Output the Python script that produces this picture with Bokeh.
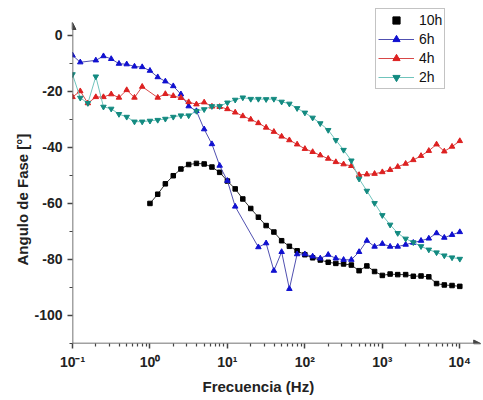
from bokeh.plotting import figure
from bokeh.models import FixedTicker, CustomJSTickFormatter, Arrow, NormalHead, Range1d, Legend, Title
from bokeh.embed import file_html
from bokeh.resources import INLINE

# ---- data ----
f_10h = [1, 1.26, 1.58, 2.0, 2.51, 3.16, 3.98, 5.01, 6.31, 7.94, 10, 12.6, 15.8, 20, 25.1, 31.6, 39.8,
         50.1, 63.1, 79.4, 100, 126, 158, 200, 251, 316, 398, 501, 631, 794, 1000, 1260, 1580, 2000,
         2510, 3160, 3980, 5010, 6310, 7940, 10000]
p_10h = [-60.0, -56.7, -53.0, -50.1, -47.7, -46.1, -45.7, -45.9, -47.0, -48.9, -52.0, -54.8, -58.4,
         -61.8, -64.9, -67.9, -70.2, -73.3, -75.3, -76.9, -78.3, -79.4, -80.2, -81.0, -81.4, -81.6,
         -82.0, -84.0, -82.3, -84.3, -85.7, -85.2, -85.4, -85.4, -86.0, -85.9, -86.2, -88.6, -89.1,
         -89.3, -89.6]

f_6h = [0.1, 0.126, 0.2, 0.251, 0.316, 0.398, 0.501, 0.631, 0.794, 1, 1.26, 1.58, 2.0, 2.51, 3.16,
        3.98, 5.01, 6.31, 7.94, 10, 12.6, 25.1, 31.6, 39.8, 50.1, 63.1, 79.4, 100, 126, 158, 200,
        251, 316, 398, 501, 631, 794, 1000, 1260, 1580, 2000, 2510, 3160, 3980, 5010, 6310, 7940,
        10000]
p_6h = [-7.1, -9.6, -8.9, -7.4, -8.4, -10.1, -10.3, -11.1, -11.3, -12.6, -14.9, -16.4, -18.1, -21.0,
        -25.3, -27.0, -33.5, -38.8, -46.5, -51.9, -61.1, -75.6, -74.2, -84.0, -77.3, -90.5, -78.1,
        -78.1, -78.9, -79.6, -78.3, -79.6, -80.1, -80.1, -77.3, -73.3, -75.4, -74.4, -75.4, -75.4,
        -74.7, -74.0, -73.3, -72.5, -70.6, -72.2, -71.2, -70.2]

f_4h = [0.1, 0.126, 0.158, 0.2, 0.251, 0.316, 0.398, 0.501, 0.631, 0.794, 1.26, 1.58, 2.0, 2.51,
        3.16, 3.98, 5.01, 6.31, 7.94, 10, 12.6, 15.8, 20, 25.1, 31.6, 39.8, 50.1, 63.1, 79.4, 100,
        126, 158, 200, 251, 316, 398, 501, 631, 794, 1000, 1260, 1580, 2000, 2510, 3160, 3980,
        5010, 6310, 7940, 10000]
p_4h = [-22.0, -19.9, -24.2, -22.0, -22.0, -21.0, -22.2, -19.5, -22.2, -18.3, -22.2, -20.9, -21.6,
        -22.3, -23.8, -24.6, -23.9, -25.4, -25.5, -26.3, -27.5, -28.8, -30.0, -31.3, -32.9, -34.4,
        -36.1, -37.4, -38.9, -40.5, -41.6, -42.8, -44.0, -45.2, -46.0, -46.6, -49.8, -49.6, -49.4,
        -48.8, -48.0, -46.9, -45.8, -44.5, -43.0, -41.2, -38.9, -41.4, -39.7, -37.7]

f_2h = [0.1, 0.126, 0.158, 0.2, 0.251, 0.316, 0.398, 0.501, 0.631, 0.794, 1, 1.26, 1.58, 2.0, 2.51,
        3.16, 3.98, 5.01, 6.31, 7.94, 10, 12.6, 15.8, 20, 25.1, 31.6, 39.8, 50.1, 63.1, 79.4, 100,
        126, 158, 200, 251, 316, 398, 501, 631, 794, 1000, 1260, 1580, 2000, 2510, 3160, 3980,
        5010, 6310, 7940, 10000]
p_2h = [-13.9, -22.3, -24.2, -14.7, -25.5, -26.2, -28.1, -29.1, -30.8, -30.8, -30.5, -30.2, -29.8,
        -29.1, -28.6, -28.6, -27.0, -26.4, -25.3, -25.3, -24.0, -23.0, -22.2, -22.7, -22.7, -22.8,
        -22.7, -23.7, -24.4, -26.0, -27.6, -29.4, -31.4, -33.8, -37.4, -40.9, -44.7, -51.2, -55.5,
        -59.9, -64.2, -67.6, -70.6, -72.6, -73.9, -75.3, -76.5, -77.5, -78.6, -79.3, -79.8]

x_major = [0.1, 1, 10, 100, 1000, 10000]
x_minor = [m * d for d in [0.1, 1, 10, 100, 1000] for m in range(2, 10)]
y_major = [-100, -80, -60, -40, -20, 0]
y_minor = [-110, -90, -70, -50, -30, -10]

FONT = "Liberation Sans"
AX = "#444444"

p = figure(width=483, height=400, x_axis_type="log", output_backend="svg", toolbar_location=None,
           x_range=Range1d(0.1, 10 ** 4.306), y_range=Range1d(-110, 9.6),
           min_border_left=72, min_border_right=0, min_border_top=8, min_border_bottom=57)
p.outline_line_color = None
p.xgrid.visible = False
p.ygrid.visible = False

p.xaxis.ticker = FixedTicker(ticks=x_major, minor_ticks=x_minor)
p.yaxis.ticker = FixedTicker(ticks=y_major, minor_ticks=y_minor)
p.xaxis.formatter = CustomJSTickFormatter(code="""
const e = Math.round(Math.log10(tick));
const sup = {'-':'\u207b','0':'\u2070','1':'\u00b9','2':'\u00b2','3':'\u00b3','4':'\u2074'};
return '10' + String(e).split('').map(c => sup[c]).join('');
""")
p.yaxis.formatter = CustomJSTickFormatter(code="return tick.toFixed(0);")

for ax in (p.xaxis, p.yaxis):
    ax.axis_line_color = None
    ax.major_tick_line_color = AX
    ax.minor_tick_line_color = AX
    ax.major_tick_line_width = 1.5
    ax.minor_tick_line_width = 1.2
    ax.major_tick_out = 5
    ax.major_tick_in = 0
    ax.minor_tick_out = 3
    ax.minor_tick_in = 0
    ax.major_label_text_font = FONT
    ax.major_label_text_font_style = "bold"
    ax.major_label_text_font_size = "14px"
    ax.major_label_text_color = "#222222"

p.xaxis.major_label_standoff = 5
p.yaxis.major_label_standoff = 5

# axis titles placed like the reference (centred on the drawn axis span)
xt = Title(text="Frecuencia (Hz)", align="left", offset=130, standoff=6,
           text_font=FONT, text_font_size="15px", text_font_style="bold", text_color="#222222")
p.add_layout(xt, "below")
yt = Title(text="Angulo de Fase [°]", align="left", offset=78, standoff=2,
           text_font=FONT, text_font_size="15px", text_font_style="bold", text_color="#222222")
p.add_layout(yt, "left")

# axis lines with arrow heads
p.add_layout(Arrow(end=NormalHead(size=7, fill_color=AX, line_color=AX),
                   x_start=0.1, y_start=-110, x_end=0.1, y_end=4.6,
                   line_color=AX, line_width=1.5))
p.add_layout(Arrow(end=NormalHead(size=7, fill_color=AX, line_color=AX),
                   x_start=0.1, y_start=-110, x_end=10 ** 4.27, y_end=-110,
                   line_color=AX, line_width=1.5))

# series
p.line(f_10h, p_10h, line_color="#333333", line_width=1)
r10 = p.scatter(f_10h, p_10h, marker="square", size=4.5, fill_color="black", line_color="black")

l6 = p.line(f_6h, p_6h, line_color="#5050b0", line_width=1)
s6 = p.scatter(f_6h, p_6h, marker="triangle", size=5.5, fill_color="#1010d0", line_color="#1010d0")

l4 = p.line(f_4h, p_4h, line_color="#d84848", line_width=1)
s4 = p.scatter(f_4h, p_4h, marker="triangle", size=5.5, fill_color="#dd2020", line_color="#dd2020")

l2 = p.line(f_2h, p_2h, line_color="#70c4bc", line_width=1)
s2 = p.scatter(f_2h, p_2h, marker="inverted_triangle", size=5.5, fill_color="#138a80", line_color="#138a80")

legend = Legend(items=[("10h", [r10]), ("6h", [l6, s6]), ("4h", [l4, s4]), ("2h", [l2, s2])],
                location=(303, 254))
legend.label_text_font = FONT
legend.label_text_font_size = "14px"
legend.label_text_color = "#111111"
legend.glyph_width = 36
legend.glyph_height = 18
legend.label_height = 18
legend.spacing = 1
legend.padding = 2
legend.margin = 0
legend.label_standoff = 5
legend.border_line_color = "#888888"
legend.border_line_width = 1
legend.background_fill_alpha = 1
p.add_layout(legend)

open("out.html", "w").write(file_html(p, INLINE))
